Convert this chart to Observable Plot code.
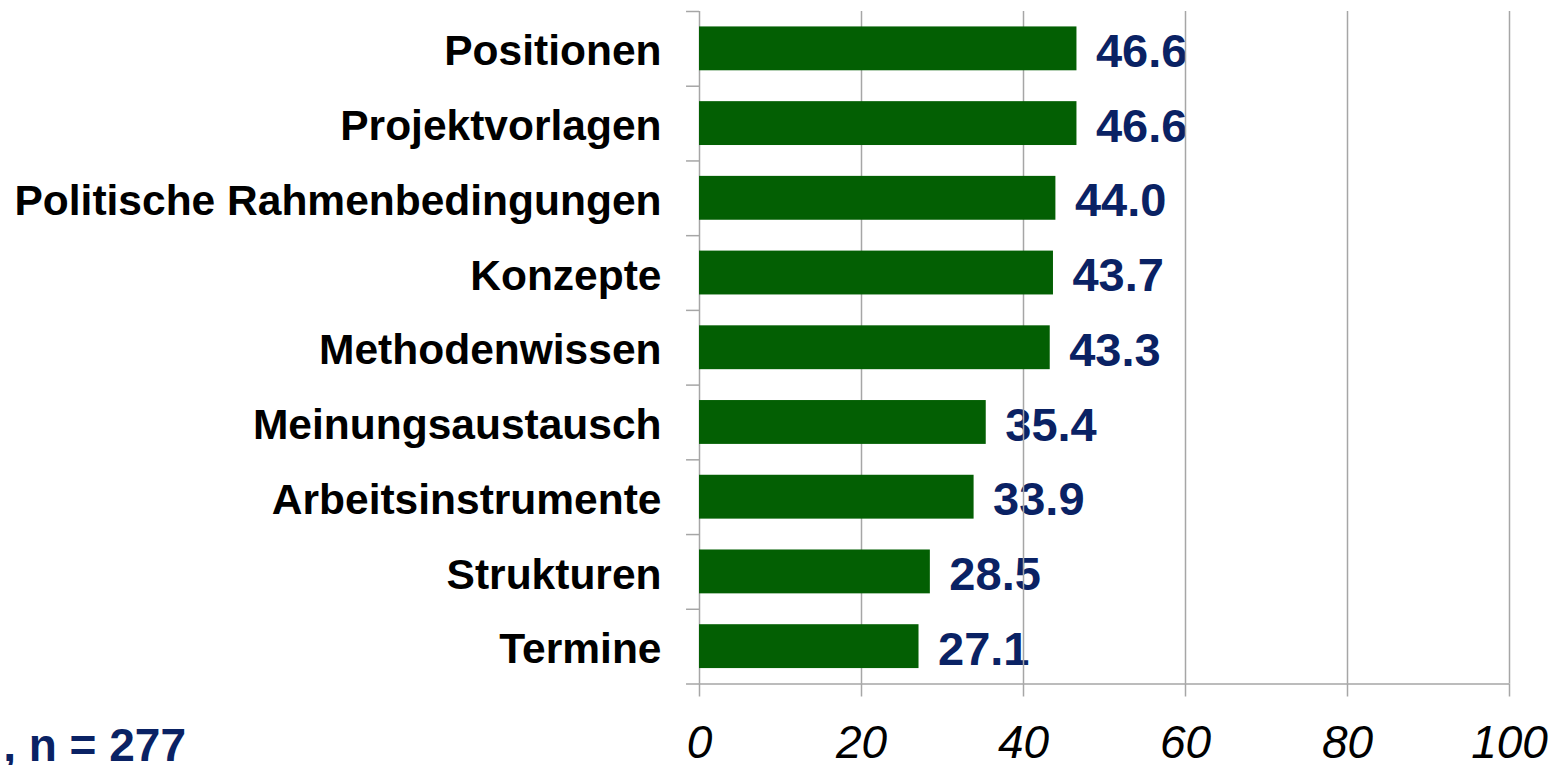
<!DOCTYPE html>
<html>
<head>
<meta charset="utf-8">
<script src="https://cdn.jsdelivr.net/npm/d3@7"></script>
<script src="https://cdn.jsdelivr.net/npm/@observablehq/plot@0.6"></script>
<style>
  html, body { margin: 0; padding: 0; background: #fff; overflow: hidden; }
  #wrap { position: relative; width: 1555px; height: 765px; }
  #caption { position: absolute; left: 0; top: 722px; width: 186px; text-align: right; white-space: nowrap;
    font: bold 46px "Liberation Sans", Arial, sans-serif; line-height: 46px; color: #0a2264; direction: rtl; overflow: visible; }
  #caption span { direction: ltr; unicode-bidi: embed; }
</style>
</head>
<body>
<div id="wrap"><div id="caption"><span>, n = 277</span></div></div>
<script>
const categories = ["Positionen", "Projektvorlagen", "Politische Rahmenbedingungen", "Konzepte", "Methodenwissen", "Meinungsaustausch", "Arbeitsinstrumente", "Strukturen", "Termine"];
const values = [46.6, 46.6, 44.0, 43.7, 43.3, 35.4, 33.9, 28.5, 27.1];
const xTicks = [0, 20, 40, 60, 80, 100];
const gridTicks = [20, 40, 60, 80, 100];

const data = categories.map((c, i) => ({category: c, value: values[i]}));

const W = 1555, H = 765, mT = 11, mB = 81.5, mL = 699, mR = 46;
const step = (H - mT - mB) / categories.length;
const gray = "#a6a6a6";
const font = "'Liberation Sans', Arial, sans-serif";

const chart = Plot.plot({
  width: W,
  height: H,
  marginTop: mT,
  marginBottom: mB,
  marginLeft: mL,
  marginRight: mR,
  style: {fontFamily: font, background: "transparent", overflow: "visible"},
  x: {domain: [0, 100], ticks: xTicks, label: null},
  y: {domain: categories, paddingInner: 0.413, paddingOuter: 0.2065, round: false, label: null},
  marks: [
    Plot.text(data, {
      x: "value", y: "category", text: d => d.value.toFixed(1),
      textAnchor: "start", dx: 19, dy: 3,
      fontSize: 47, fontWeight: "bold", fill: "#0a2264", fontFamily: font
    }),
    Plot.ruleX(gridTicks, {stroke: gray, strokeWidth: 1.5}),
    Plot.ruleX([0], {stroke: gray, strokeWidth: 1.5}),
    Plot.ruleY(categories, {y: d => d, dy: -step / 2, x1: -1.6, x2: 0, stroke: gray, strokeWidth: 1.5}),
    Plot.ruleY(categories.slice(-1), {y: d => d, dy: step / 2, x1: -1.6, x2: 100, stroke: gray, strokeWidth: 1.5}),
    Plot.barX(data, {x: "value", y: "category", fill: "#035f03"}),
    Plot.axisX({
      ticks: xTicks, tickSize: 13, tickPadding: 28, stroke: gray, strokeWidth: 1.5, label: null,
      fill: "black", fontSize: 46, fontStyle: "italic", tickFormat: d => String(d), fontFamily: font
    }),
    Plot.axisY({
      tickSize: 0, tickPadding: 38, fill: "black", label: null, dy: 3,
      fontSize: 42.5, fontWeight: "bold", fontFamily: font
    })
  ]
});
document.getElementById("wrap").prepend(chart);
chart.style.position = "absolute";
chart.style.left = "0";
chart.style.top = "0";
</script>
</body>
</html>
